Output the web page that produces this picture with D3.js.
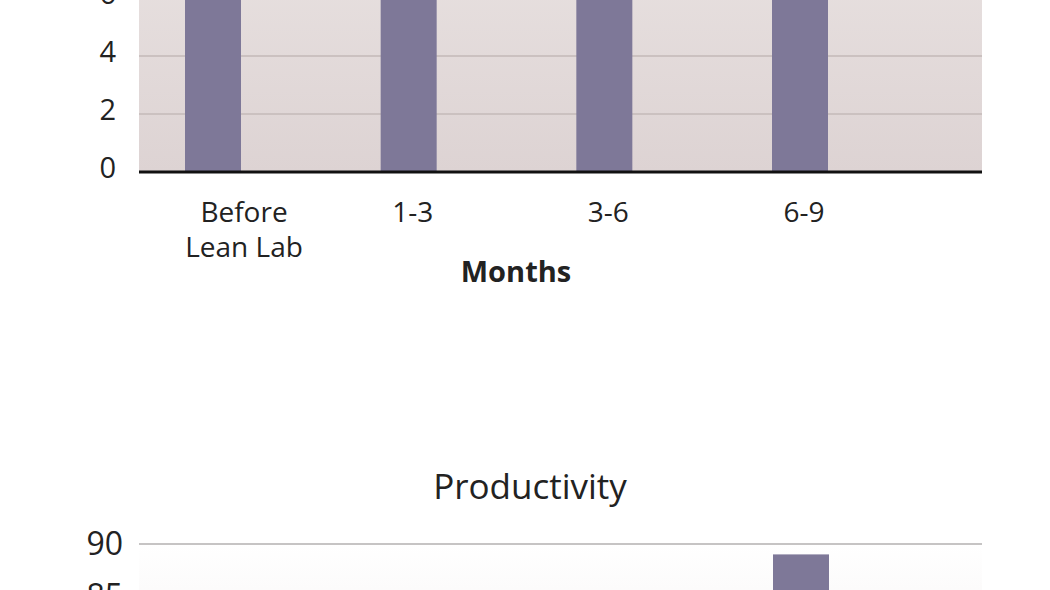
<!DOCTYPE html>
<html>
<head>
<meta charset="utf-8">
<script src="https://cdn.jsdelivr.net/npm/d3@7"></script>
<style>
  body { margin: 0; background: #fff; overflow: hidden; }
  text { font-family: "Open Sans", "Noto Sans", sans-serif; fill: #222; }
</style>
</head>
<body>
<div id="viz"></div>
<script>
// categories (months) shared by both charts
var categories = ["Before Lean Lab", "1-3", "3-6", "6-9"];
var categoryLines = [["Before", "Lean Lab"], ["1-3"], ["3-6"], ["6-9"]];

// top chart (cropped at the top of the picture)
var topValues = [7.4, 8.2, 8.8, 9.3];
var topTicks = [0, 2, 4, 6];

// bottom chart "Productivity" (cropped at the bottom)
var prodValues = [78, 81, 83, 89];
var prodTicks = [85, 90];

var width = 1050, height = 590;
var left = 139, right = 982;
var barW = 56;

var svg = d3.select("#viz").append("svg")
  .attr("width", width)
  .attr("height", height);

var defs = svg.append("defs");
var g1 = defs.append("linearGradient").attr("id", "bgTop")
  .attr("x1", 0).attr("y1", 0).attr("x2", 0).attr("y2", 1);
g1.append("stop").attr("offset", "0%").attr("stop-color", "#ebe5e4");
g1.append("stop").attr("offset", "100%").attr("stop-color", "#ddd3d3");
var g2 = defs.append("linearGradient").attr("id", "bgBottom")
  .attr("x1", 0).attr("y1", 0).attr("x2", 0).attr("y2", 1);
g2.append("stop").attr("offset", "0%").attr("stop-color", "#ffffff");
g2.append("stop").attr("offset", "100%").attr("stop-color", "#f1ecec");

var x = d3.scalePoint().domain(categories).range([213, 800]);

// ---- top chart
var yTop = d3.scaleLinear().domain([0, 10]).range([172, -118]);

svg.append("rect")
  .attr("x", left).attr("y", yTop(10))
  .attr("width", right - left).attr("height", yTop(0) - yTop(10))
  .attr("fill", "url(#bgTop)");

svg.selectAll(".gridTop")
  .data(topTicks.filter(function(d) { return d > 0; }))
  .enter().append("line")
  .attr("x1", left).attr("x2", right)
  .attr("y1", function(d) { return yTop(d); })
  .attr("y2", function(d) { return yTop(d); })
  .attr("stroke", "#cbc1c0").attr("stroke-width", 2);

svg.selectAll(".barTop")
  .data(topValues)
  .enter().append("rect")
  .attr("x", function(d, i) { return x(categories[i]) - barW / 2; })
  .attr("y", function(d) { return yTop(d); })
  .attr("width", barW)
  .attr("height", function(d) { return yTop(0) - yTop(d); })
  .attr("fill", "#7e7898");

svg.append("line")
  .attr("x1", left).attr("x2", right)
  .attr("y1", yTop(0)).attr("y2", yTop(0))
  .attr("stroke", "#111").attr("stroke-width", 3);

svg.selectAll(".tickTop")
  .data(topTicks)
  .enter().append("text")
  .attr("x", 116)
  .attr("y", function(d) { return yTop(d) + 6; })
  .attr("text-anchor", "end")
  .attr("font-size", 29)
  .text(function(d) { return d; });

var catLabels = svg.selectAll(".cat")
  .data(categoryLines)
  .enter().append("text")
  .attr("text-anchor", "middle")
  .attr("font-size", 28);
catLabels.selectAll("tspan")
  .data(function(d, i) { return d.map(function(s) { return {s: s, i: i}; }); })
  .enter().append("tspan")
  .attr("x", function(d) { return x(categories[d.i]) + (d.i == 0 ? 31 : 4); })
  .attr("y", function(d, j) { return 222 + j * 35; })
  .text(function(d) { return d.s; });

svg.append("text")
  .attr("x", 516).attr("y", 282)
  .attr("text-anchor", "middle")
  .attr("font-size", 29)
  .attr("font-weight", "bold")
  .text("Months");

// ---- bottom chart
var yBot = d3.scaleLinear().domain([70, 90]).range([752, 544]);

svg.append("text")
  .attr("x", 530).attr("y", 499)
  .attr("text-anchor", "middle")
  .attr("font-size", 35)
  .text("Productivity");

svg.append("rect")
  .attr("x", left).attr("y", yBot(90))
  .attr("width", right - left).attr("height", yBot(70) - yBot(90))
  .attr("fill", "url(#bgBottom)");

svg.selectAll(".gridBot")
  .data(prodTicks)
  .enter().append("line")
  .attr("x1", left).attr("x2", right)
  .attr("y1", function(d) { return yBot(d); })
  .attr("y2", function(d) { return yBot(d); })
  .attr("stroke", "#c6c4c4").attr("stroke-width", 2);

svg.selectAll(".barBot")
  .data(prodValues)
  .enter().append("rect")
  .attr("x", function(d, i) { return x(categories[i]) - barW / 2 + 1; })
  .attr("y", function(d) { return yBot(d); })
  .attr("width", barW)
  .attr("height", function(d) { return yBot(70) - yBot(d); })
  .attr("fill", "#7e7898");

svg.selectAll(".tickBot")
  .data(prodTicks)
  .enter().append("text")
  .attr("x", 123)
  .attr("y", function(d) { return yBot(d) + 11; })
  .attr("text-anchor", "end")
  .attr("font-size", 32)
  .text(function(d) { return d; });
</script>
</body>
</html>
